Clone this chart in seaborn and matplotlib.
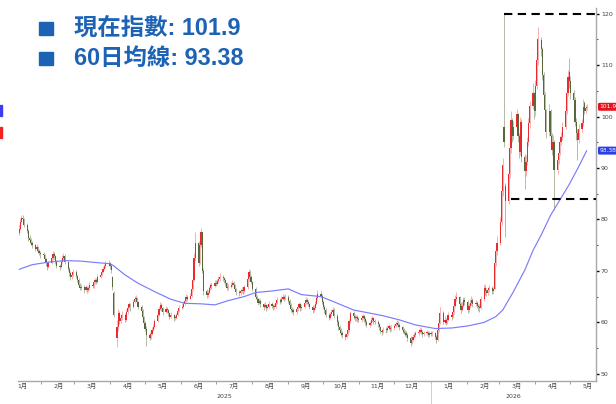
import pandas as pd
import matplotlib
matplotlib.use('Agg')
import matplotlib.pyplot as plt
import matplotlib.dates as mdates
import matplotlib.transforms as mtransforms
from matplotlib.patches import Rectangle
from matplotlib.ticker import FixedLocator, NullFormatter, FixedFormatter
import seaborn as sns

# --- daily candles (business days from first_day) ---
first_day = '2025-01-13'
first_open = 77.4

closes = [
    # 2025-01
    78.2, 79.5, 80.3, 80.0, 79.0, 77.8, 76.4, 76.0, 75.5, 75.0, 74.2, 74.6, 73.8, 73.5, 73.2,
    # 2025-02
    73.0, 72.4, 71.5, 70.8, 71.6, 72.5, 73.2, 72.8, 71.9, 71.0, 70.8, 71.8, 72.6, 72.9, 71.8, 70.4, 69.5, 68.8, 69.3, 69.8,
    # 2025-03
    69.0, 68.2, 67.3, 66.7, 66.9, 66.3, 66.8, 66.2, 66.6, 67.3, 67.0, 67.8, 68.2, 67.9, 68.9, 69.2, 69.8, 70.4, 70.9, 71.3, 71.6,
    # 2025-04
    71.0, 70.2, 66.9, 61.5, 59.0, 61.8, 60.2, 60.8, 61.5, 60.5, 62.0, 62.8, 63.5, 62.9, 64.0, 64.6, 64.8, 63.9, 63.0, 62.2, 61.0, 59.9,
    # 2025-05
    58.8, 57.5, 57.0, 57.8, 58.6, 59.1, 60.2, 61.5, 62.6, 63.4, 62.8, 62.0, 62.6, 62.4, 61.8, 61.1, 61.5, 60.8, 60.9, 61.4, 62.2, 62.8,
    # 2025-06
    63.0, 63.6, 64.2, 65.0, 64.6, 65.2, 66.4, 68.3, 72.5, 75.4, 71.6, 75.0, 77.6, 70.0, 66.0, 65.3, 65.8, 66.6, 67.2, 67.0, 67.7,
    # 2025-07
    67.5, 68.0, 68.4, 68.9, 68.6, 68.2, 67.6, 66.7, 66.9, 67.3, 67.7, 67.2, 66.5, 65.9, 65.7, 66.0, 66.3, 66.1, 66.8, 68.5, 69.8, 68.9, 67.9,
    # 2025-08
    66.5, 65.0, 64.6, 63.8, 64.2, 63.5, 63.0, 63.4, 62.8, 63.0, 63.6, 63.2, 62.9, 63.0, 63.8, 64.4, 64.0, 64.6, 65.0, 64.6, 65.0,
    # 2025-09
    64.2, 63.4, 62.6, 62.4, 62.0, 62.5, 63.0, 63.5, 62.8, 63.0, 63.8, 64.4, 64.0, 63.5, 63.0, 62.4, 62.8, 63.6, 64.8, 65.6, 65.2, 64.0,
    # 2025-10
    63.0, 62.4, 61.5, 60.9, 61.6, 62.0, 62.4, 61.2, 60.0, 59.1, 58.5, 57.9, 57.5, 57.2, 57.8, 58.5, 60.2, 61.8, 61.2, 60.8, 61.0, 60.6, 60.5,
    # 2025-11
    60.9, 61.2, 60.6, 60.0, 59.5, 59.8, 60.5, 60.8, 60.2, 60.1, 59.6, 59.0, 58.4, 58.2, 58.6, 58.5, 58.9, 59.2, 58.7, 58.9,
    # 2025-12
    59.2, 59.6, 59.9, 59.5, 59.0, 58.5, 58.2, 57.9, 57.6, 57.0, 56.0, 56.6, 57.2, 57.6, 57.9, 58.2, 58.5, 58.2, 57.8, 57.9, 58.0, 57.6, 57.9,
    # 2026-01
    57.8, 57.9, 57.2, 56.6, 58.5, 59.9, 61.8, 60.1, 60.5, 59.9, 60.4, 61.5, 61.0, 62.0, 63.2, 64.5, 65.0, 63.5, 62.4, 63.2, 64.4, 64.0,
    # 2026-02
    62.4, 63.2, 63.8, 64.4, 63.6, 63.8, 63.2, 62.9, 62.8, 64.5, 66.7, 66.0, 65.7, 66.2, 66.7, 66.0, 66.4, 71.6, 73.8, 75.5,
    # 2026-03
    79.5, 85.5, 90.5, 95.0, 83.5, 88.8, 93.8, 99.4, 96.2, 98.0, 100.4, 96.2, 93.2, 99.0, 92.2, 89.4, 91.2, 95.0, 98.7, 102.0, 104.6, 101.0,
    # 2026-04
    106.0, 111.0, 115.0, 113.2, 108.0, 104.2, 101.2, 97.0, 101.0, 96.2, 93.5, 95.0, 89.6, 91.6, 93.0, 95.0, 96.0, 98.0, 101.0, 104.6, 107.7, 107.0,
    # 2026-05
    104.6, 103.2, 99.0, 96.8, 95.4, 97.5, 98.7, 101.8, 101.0, 101.6, 101.9,
]

highs = [
    78.9, 80.2, 80.9, 80.8, 80.2, 79.3, 78.1, 76.9, 76.3, 75.8, 75.3, 75.2, 74.9, 74.2, 73.9,
    73.6, 73.3, 72.6, 71.8, 72.0, 73.0, 73.8, 73.6, 73.0, 72.2, 71.4, 72.3, 73.1, 73.5, 73.2, 72.0, 70.8, 69.9, 69.8, 70.4,
    70.1, 69.3, 68.6, 67.6, 67.4, 67.2, 67.3, 67.0, 67.1, 67.8, 67.7, 68.3, 68.7, 68.6, 69.4, 69.8, 70.3, 70.9, 71.4, 71.9, 72.2,
    71.8, 71.3, 69.0, 66.0, 60.5, 62.5, 62.3, 61.7, 62.2, 61.8, 62.6, 63.3, 64.0, 63.8, 64.4, 65.1, 65.4, 65.0, 64.1, 63.4, 62.5, 61.3,
    60.3, 59.2, 58.2, 58.3, 59.0, 59.6, 60.7, 62.0, 63.1, 63.9, 63.8, 63.0, 63.1, 63.0, 62.6, 62.0, 62.0, 61.7, 61.4, 61.9, 62.7, 63.3,
    63.5, 64.1, 64.7, 65.5, 65.3, 65.7, 66.9, 68.9, 73.4, 77.6, 75.8, 76.0, 78.3, 77.0, 70.5, 66.5, 66.3, 67.1, 67.7, 67.6, 68.2,
    68.2, 68.5, 69.0, 69.6, 69.3, 68.9, 68.4, 67.8, 67.4, 67.8, 68.2, 68.0, 67.4, 66.7, 66.3, 66.5, 66.8, 66.8, 67.3, 69.1, 70.4, 70.2, 69.2,
    68.0, 66.8, 65.3, 64.8, 64.7, 64.5, 63.8, 63.9, 63.6, 63.5, 64.1, 63.9, 63.5, 63.5, 64.3, 64.9, 64.8, 65.1, 65.5, 65.3, 65.5,
    65.3, 64.5, 63.7, 63.0, 62.8, 63.0, 63.5, 64.0, 63.8, 63.5, 64.3, 64.9, 64.8, 64.3, 63.8, 63.3, 63.3, 64.1, 65.3, 66.2, 66.0, 65.5,
    64.3, 63.4, 62.8, 61.9, 62.1, 62.5, 62.9, 62.8, 61.6, 60.4, 59.5, 58.9, 58.3, 57.9, 58.3, 59.0, 60.7, 62.3, 62.2, 61.6, 61.5, 61.4, 61.1,
    61.4, 61.7, 61.5, 61.0, 60.4, 60.3, 61.0, 61.3, 61.1, 60.7, 60.4, 59.9, 59.3, 58.8, 59.1, 59.0, 59.4, 59.7, 59.5, 59.4,
    59.7, 60.1, 60.5, 60.2, 59.8, 59.3, 58.9, 58.6, 58.3, 57.9, 57.4, 57.1, 57.7, 58.1, 58.4, 58.7, 59.0, 58.9, 58.6, 58.4, 58.5, 58.3, 58.4,
    58.3, 58.4, 58.2, 57.5, 59.0, 60.5, 62.9, 62.2, 61.2, 60.8, 60.9, 62.0, 61.9, 62.6, 63.8, 65.3, 65.9, 65.2, 63.9, 63.9, 65.0, 64.9,
    64.3, 63.8, 64.5, 65.1, 64.8, 64.4, 64.2, 63.6, 63.5, 65.1, 67.4, 67.2, 66.6, 66.8, 67.3, 67.1, 66.9, 72.2, 75.0, 76.8,
    80.5, 86.5, 92.0, 120.0, 87.0, 89.8, 94.5, 101.0, 99.8, 99.2, 101.5, 100.6, 96.8, 100.0, 99.5, 92.8, 92.5, 96.0, 99.8, 103.0, 106.5, 104.8,
    107.2, 112.2, 117.4, 115.5, 113.5, 108.6, 104.8, 101.5, 102.5, 101.5, 96.8, 96.5, 95.5, 92.8, 94.0, 96.2, 97.0, 99.0, 102.0, 105.8, 109.0, 111.3,
    107.8, 105.2, 103.8, 99.8, 97.5, 98.5, 99.5, 103.5, 103.0, 102.2, 102.4,
]

lows = [
    77.0, 78.0, 79.3, 79.4, 78.6, 77.3, 75.9, 75.4, 75.0, 74.5, 73.8, 73.9, 73.4, 73.0, 72.6,
    72.5, 71.9, 71.0, 70.2, 70.5, 71.3, 72.2, 72.3, 71.4, 70.6, 70.2, 70.6, 71.5, 72.2, 71.4, 70.0, 69.0, 68.3, 68.5, 69.0,
    68.6, 67.8, 66.9, 66.2, 66.2, 65.8, 66.0, 65.8, 65.9, 66.3, 66.6, 66.7, 67.5, 67.4, 67.7, 68.6, 69.0, 69.6, 70.2, 70.6, 71.0,
    70.4, 69.6, 66.2, 61.0, 55.2, 58.3, 59.6, 59.8, 60.4, 60.0, 60.3, 61.7, 62.6, 62.3, 62.7, 63.8, 64.2, 63.5, 62.5, 61.7, 60.4, 59.3,
    58.3, 55.4, 56.5, 56.8, 57.5, 58.3, 58.9, 60.0, 61.3, 62.4, 62.3, 61.5, 61.8, 61.9, 61.3, 60.6, 60.8, 60.3, 60.4, 60.7, 61.2, 62.0,
    62.5, 62.8, 63.4, 64.0, 64.1, 64.5, 65.0, 66.2, 68.0, 72.0, 71.0, 71.3, 74.6, 69.5, 65.4, 64.8, 65.0, 65.6, 66.3, 66.4, 66.8,
    67.0, 67.2, 67.7, 68.1, 68.1, 67.7, 67.0, 66.2, 66.3, 66.6, 67.0, 66.8, 66.0, 65.4, 65.1, 65.3, 65.7, 65.6, 65.8, 66.5, 68.0, 68.4, 67.4,
    66.0, 64.5, 64.0, 63.3, 63.5, 63.0, 62.4, 62.7, 62.3, 62.5, 62.8, 62.7, 62.4, 62.5, 62.8, 63.6, 63.6, 63.8, 64.4, 64.1, 64.3,
    63.8, 62.9, 62.1, 61.9, 61.5, 61.7, 62.2, 62.7, 62.3, 62.4, 62.8, 63.6, 63.6, 63.1, 62.6, 61.9, 62.0, 62.5, 63.3, 64.4, 64.8, 63.5,
    62.5, 61.9, 61.0, 60.4, 60.6, 61.3, 61.6, 60.8, 59.5, 58.6, 58.0, 57.4, 56.9, 56.6, 56.9, 57.5, 58.2, 59.8, 60.7, 60.3, 60.3, 60.1, 60.0,
    60.1, 60.5, 60.1, 59.5, 59.0, 59.1, 59.5, 60.1, 59.7, 59.6, 59.1, 58.5, 57.9, 57.6, 57.9, 58.0, 58.2, 58.6, 58.2, 58.3,
    58.6, 59.0, 59.3, 59.0, 58.5, 58.0, 57.7, 57.4, 57.1, 56.4, 55.5, 55.8, 56.3, 56.9, 57.2, 57.6, 57.9, 57.7, 57.2, 57.3, 57.5, 57.1, 57.2,
    57.3, 57.3, 56.7, 55.9, 56.4, 58.2, 59.6, 59.6, 59.7, 59.4, 59.6, 60.2, 60.5, 60.8, 61.7, 63.0, 64.2, 63.0, 61.9, 62.2, 63.0, 63.4,
    61.9, 62.0, 62.8, 63.3, 63.0, 63.1, 62.7, 62.3, 62.0, 62.6, 64.2, 65.3, 65.1, 65.4, 65.9, 65.5, 65.6, 68.0, 71.0, 73.0,
    75.0, 79.0, 84.5, 94.0, 76.6, 83.0, 88.0, 93.0, 95.0, 95.5, 97.2, 95.0, 92.0, 92.6, 91.2, 86.0, 88.5, 90.5, 94.3, 97.8, 101.5, 99.5,
    100.2, 105.3, 110.0, 111.8, 107.2, 103.0, 100.0, 95.8, 96.3, 95.5, 92.5, 92.8, 81.8, 88.8, 90.8, 92.5, 94.5, 95.5, 97.5, 100.5, 104.0, 105.5,
    103.5, 101.8, 98.2, 95.5, 91.6, 94.8, 97.0, 98.2, 100.4, 100.6, 101.2,
]

# days that opened away from the previous close
gap_opens = {
    '2025-04-03': 68.8, '2025-04-04': 65.8, '2025-04-07': 57.0,
    '2026-03-05': 98.0, '2026-03-06': 86.5, '2026-04-06': 114.8,
    '2026-04-30': 108.6, '2026-05-13': 102.6,
}

# 60-day moving average, sampled off the blue line
ma_dates = ['2025-01-13', '2025-01-24', '2025-02-07', '2025-02-21', '2025-03-07', '2025-03-21',
            '2025-04-01', '2025-04-04', '2025-04-14', '2025-04-25', '2025-05-09', '2025-05-23',
            '2025-06-04', '2025-06-18', '2025-06-30', '2025-07-11', '2025-07-25', '2025-08-04',
            '2025-08-18', '2025-09-01', '2025-09-12', '2025-09-29', '2025-10-10', '2025-10-27',
            '2025-11-21', '2025-12-05', '2025-12-19', '2026-01-05', '2026-01-19', '2026-02-02',
            '2026-02-16', '2026-02-26', '2026-03-04', '2026-03-13', '2026-03-23', '2026-03-30',
            '2026-04-06', '2026-04-14', '2026-04-22', '2026-04-30', '2026-05-08', '2026-05-15']
ma_values = [70.3, 71.2, 71.7, 72.0, 71.9, 71.6,
             71.4, 71.0, 69.2, 67.6, 66.0, 64.5,
             63.7, 63.6, 63.4, 64.2, 65.0, 65.8,
             66.1, 66.5, 65.4, 65.0, 64.0, 62.4,
             61.3, 60.5, 59.5, 58.8, 58.9, 59.3,
             60.0, 61.1, 62.4, 65.9, 70.2, 74.0,
             77.0, 80.8, 83.8, 86.8, 90.2, 93.38]

last_price = 101.9
last_ma = 93.38
box_top = 120
box_bottom = 84
box_top_start = '2026-03-05'
box_bottom_start = '2026-03-11'

month_labels = ['1月', '2月', '3月', '4月', '5月', '6月', '7月', '8月', '9月', '10月', '11月', '12月',
                '1月', '2月', '3月', '4月', '5月']
year_labels = ['2025', '2026']
legend_lines = ['現在指數: 101.9', '60日均線: 93.38']

# --- build the candle table ---
n = min(len(closes), len(highs), len(lows))
df = pd.DataFrame({'date': pd.bdate_range(first_day, periods=n),
                   'close': closes[:n], 'high': highs[:n], 'low': lows[:n]})
df['open'] = df['close'].shift(1).fillna(first_open)
for d, o in gap_opens.items():
    df.loc[df['date'] == pd.Timestamp(d), 'open'] = o
df['high'] = df[['high', 'open', 'close']].max(axis=1)
df['low'] = df[['low', 'open', 'close']].min(axis=1)
up = df['close'] >= df['open']

RED = '#ec2a2e'
GREEN = '#56673a'
RED_WICK = '#f3a3a3'
GREEN_WICK = '#a9b099'
BLUE_TXT = '#1c63b5'

sns.set_theme(style='white')
plt.rcParams['font.family'] = ['DejaVu Sans', 'Noto Sans CJK TC']

fig = plt.figure(figsize=(6.16, 4.04), dpi=100)
ax = fig.add_axes([18 / 616, 1 - 381 / 404, (596 - 18) / 616, (381 - 8) / 404])

# wicks then bodies
ax.vlines(df['date'], df['low'], df['high'],
          colors=[RED_WICK if u else GREEN_WICK for u in up], linewidth=0.6, zorder=2)
body_low = df[['open', 'close']].min(axis=1)
body_h = (df['close'] - df['open']).abs().clip(lower=0.2)
ax.bar(df['date'], body_h, bottom=body_low, width=1.0,
       color=[RED if u else GREEN for u in up], linewidth=0, zorder=3)

# moving average
ma = pd.DataFrame({'date': pd.to_datetime(ma_dates), 'ma': ma_values})
sns.lineplot(data=ma, x='date', y='ma', ax=ax, color='#7b7bff', linewidth=0.85, zorder=4)
ax.set_xlabel('')
ax.set_ylabel('')

x_left = pd.Timestamp('2025-01-12')
x_right = pd.Timestamp('2026-05-23')
ax.set_xlim(x_left, x_right)
ax.set_ylim(48.6, 121.1)

# dashed range box
ax.plot([pd.Timestamp(box_top_start), x_right], [box_top, box_top], color='black',
        linewidth=1.5, linestyle=(0, (4, 2.6)), zorder=5, clip_on=False)
ax.plot([pd.Timestamp(box_bottom_start), x_right], [box_bottom, box_bottom], color='black',
        linewidth=1.5, linestyle=(0, (4, 2.6)), zorder=5, clip_on=False)

# x axis: month boundaries as ticks, month names mid-month
ax.xaxis.set_major_locator(mdates.MonthLocator())
ax.xaxis.set_major_formatter(NullFormatter())
mid_months = pd.date_range('2025-01-01', periods=len(month_labels), freq='MS') + pd.Timedelta(days=15)
ax.xaxis.set_minor_locator(FixedLocator(mdates.date2num(mid_months)))
ax.xaxis.set_minor_formatter(FixedFormatter(month_labels))
ax.tick_params(axis='x', which='major', length=2, width=0.6, color='#888888', direction='out', bottom=True)
ax.tick_params(axis='x', which='minor', length=0, labelsize=4.5, pad=1.5, labelcolor='#444444', bottom=True)

trans = mtransforms.blended_transform_factory(ax.transData, ax.transAxes)
jan_2026 = pd.Timestamp('2026-01-01')
year_pos = [x_left + (jan_2026 - x_left) / 2, jan_2026 + (x_right - jan_2026) / 2]
for lab, pos in zip(year_labels, year_pos):
    ax.text(pos, -0.041, lab, transform=trans, ha='center', va='center', fontsize=4.5, color='#444444')
ax.plot([jan_2026, jan_2026], [0, -0.065], transform=trans, color='#c8c8c8',
        linewidth=0.6, clip_on=False)

# y axis on the right
ax.yaxis.tick_right()
ax.set_yticks(range(50, 121, 10))
ax.set_yticks(range(55, 120, 10), minor=True)
ax.tick_params(axis='y', which='major', length=2, width=1.0, color='black', labelsize=4.5,
               pad=1.5, labelcolor='#444444', right=True)
ax.tick_params(axis='y', which='minor', length=1.5, width=0.8, color='#555555', right=True)

for side in ['left', 'top']:
    ax.spines[side].set_visible(False)
for side in ['right', 'bottom']:
    ax.spines[side].set_color('#a8a8a8')
    ax.spines[side].set_linewidth(1.0)
ax.grid(False)

# price tags at the right edge
tag_trans = mtransforms.blended_transform_factory(ax.transAxes, ax.transData)
ax.text(1.006, last_price, f'{last_price:.1f}', transform=tag_trans, ha='left', va='center',
        fontsize=4.3, color='white', zorder=6, clip_on=False,
        bbox=dict(boxstyle='round,pad=0.25', fc='#e3141c', ec='none'))
ax.text(1.006, last_ma, f'{last_ma:.2f}', transform=tag_trans, ha='left', va='center',
        fontsize=4.3, color='white', zorder=6, clip_on=False,
        bbox=dict(boxstyle='round,pad=0.25', fc='#2a3fe6', ec='none'))

# legend block in the top-left
for i, line in enumerate(legend_lines):
    yc = 28 + 30 * i
    fig.patches.append(Rectangle((39 / 616, 1 - (yc + 7) / 404), 14 / 616, 13 / 404,
                                 transform=fig.transFigure, color=BLUE_TXT, zorder=10))
    fig.text(74 / 616, 1 - yc / 404, line, fontsize=16.8, fontweight='bold', color=BLUE_TXT,
             va='center', ha='left', family=['Liberation Sans', 'Noto Sans CJK TC'])

# clipped edge markers at the far left
fig.patches.append(Rectangle((0, 1 - 116 / 404), 2 / 616, 11 / 404,
                             transform=fig.transFigure, color='#3b3bf2'))
fig.patches.append(Rectangle((0, 1 - 138 / 404), 2 / 616, 11 / 404,
                             transform=fig.transFigure, color='#ef2323'))

fig.savefig('out.png', dpi=100)
plt.close(fig)
